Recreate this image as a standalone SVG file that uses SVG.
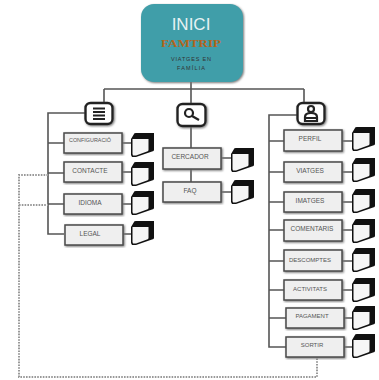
<svg xmlns="http://www.w3.org/2000/svg" width="379" height="380" viewBox="0 0 379 380">
<style>
text{font-family:"Liberation Sans",Arial,sans-serif;text-anchor:middle}
.c{fill:none;stroke:#555;stroke-width:1.6}
.d{fill:none;stroke:#999;stroke-width:2;stroke-dasharray:1.600 1.200}
.b{fill:#efefef;stroke:#4a4a4a;stroke-width:1.5;filter:url(#s)}
.t{fill:#555;font-size:6.5px}
.i{fill:#fff;stroke:#222;stroke-width:2.4;filter:url(#s)}
.g{fill:none;stroke:#222;stroke-width:2.200}
</style>
<defs>
<filter id="s" x="-15%" y="-15%" width="130%" height="130%"><feDropShadow dx="1" dy="1" stdDeviation="0.8" flood-color="#777"/></filter>
<g id="p"><path d="M3 1 Q3 0 5 0 L23 0 L23 17 Q23 18 21 18.500 L5 24 L1 24 L0 22 V6 Z" fill="#111"/><path d="M1.500 6 L17.500 6 L17.500 17 Q17.500 18 16 18.500 L5 22.500 L2 22.500 L1.500 21 Z" fill="#f6f6f6"/></g>
</defs>
<g id="connectors">
<path class="c" d="M191 81V148M191 169V182M104 89H304M104 89V103M304 89V103"/>
<path class="c" d="M85 113H48V234H64M48 143H64M48 173H64M48 204H64"/>
<path class="c" d="M297 115H269V347H286M269 141H284M269 172H284M269 202H284M269 230H284M269 261H284M269 290H284M269 318H286"/>
<path class="c" d="M122 143H132M122 172H132M122 204H132M122 234H132M221 158H231M221 192H231M342 141H352M342 172H352M342 202H352M342 230H352M342 261H352M342 290H352M344 318H352M344 347H352"/>
<path class="d" d="M48 175H19V377H317V357M19 205H48"/>
</g>
<g id="inici">
<rect x="141" y="4" width="102" height="78" rx="13" fill="#3f9ea9" filter="url(#s)"/>
<text x="191" y="30" font-size="17" fill="#e6f2f3">INICI</text>
<text x="191" y="47" font-size="11" font-weight="bold" fill="#b5651d" textLength="60" lengthAdjust="spacingAndGlyphs" style="font-family:'Liberation Serif',serif">FAMTRIP</text>
<text x="191" y="61" font-size="5.500" fill="#333" textLength="40">VIATGES EN</text>
<text x="191" y="70" font-size="5.500" fill="#333" textLength="28">FAMÍLIA</text>
</g>
<g id="menu"><rect class="i" x="85.500" y="103" width="27" height="21" rx="5"/><path class="g" d="M93 108.500H105M93 112H105M93 115.500H105M93 119H105"/></g>
<g id="cerca"><rect class="i" x="177.500" y="104" width="28" height="22" rx="5"/><circle class="g" cx="189" cy="113" r="4"/><path class="g" stroke-width="2.500" d="M192 116L199 120"/></g>
<g id="perfil"><rect class="i" x="297.500" y="103" width="27" height="21" rx="5"/><circle class="g" cx="311" cy="109" r="3"/><path class="g" d="M305 121V117Q305 113 311 113Q317 113 317 117V121ZM305 118H317"/></g>
<g id="n-configuracio"><rect class="b" x="64" y="133" width="58" height="20"/><text class="t" x="90" y="142" style="font-size:5.400px">CONFIGURACIÓ</text><use href="#p" x="131" y="133"/></g>
<g id="n-contacte"><rect class="b" x="64" y="162" width="58" height="20"/><text class="t" x="90" y="173">CONTACTE</text><use href="#p" x="131" y="162"/></g>
<g id="n-idioma"><rect class="b" x="64" y="194" width="58" height="20"/><text class="t" x="90" y="205">IDIOMA</text><use href="#p" x="131" y="191"/></g>
<g id="n-legal"><rect class="b" x="65" y="225" width="58" height="20"/><text class="t" x="90" y="236">LEGAL</text><use href="#p" x="131" y="221"/></g>
<g id="n-cercador"><rect class="b" x="163" y="148" width="58" height="21"/><text class="t" x="190" y="159">CERCADOR</text><use href="#p" x="231" y="148"/></g>
<g id="n-faq"><rect class="b" x="163" y="182" width="58" height="20"/><text class="t" x="190" y="193">FAQ</text><use href="#p" x="231" y="180"/></g>
<g id="n-perfil"><rect class="b" x="284" y="130" width="58" height="21"/><text class="t" x="310" y="141">PERFIL</text><use href="#p" x="352" y="127"/></g>
<g id="n-viatges"><rect class="b" x="284" y="162" width="58" height="20"/><text class="t" x="310" y="173">VIATGES</text><use href="#p" x="352" y="158"/></g>
<g id="n-imatges"><rect class="b" x="284" y="192" width="58" height="20"/><text class="t" x="310" y="203">IMATGES</text><use href="#p" x="352" y="189"/></g>
<g id="n-comentaris"><rect class="b" x="284" y="220" width="58" height="21"/><text class="t" x="312" y="231">COMENTARIS</text><use href="#p" x="352" y="219"/></g>
<g id="n-descomptes"><rect class="b" x="284" y="250" width="58" height="21"/><text class="t" x="310" y="262" style="font-size:6px">DESCOMPTES</text><use href="#p" x="352" y="248"/></g>
<g id="n-activitats"><rect class="b" x="284" y="280" width="58" height="20"/><text class="t" x="310" y="291" style="font-size:6px">ACTIVITATS</text><use href="#p" x="352" y="278"/></g>
<g id="n-pagament"><rect class="b" x="286" y="308" width="58" height="20"/><text class="t" x="312" y="318" style="font-size:6px">PAGAMENT</text><use href="#p" x="352" y="306"/></g>
<g id="n-sortir"><rect class="b" x="286" y="337" width="58" height="20"/><text class="t" x="312" y="347" style="font-size:6px">SORTIR</text><use href="#p" x="352" y="334"/></g>
</svg>
